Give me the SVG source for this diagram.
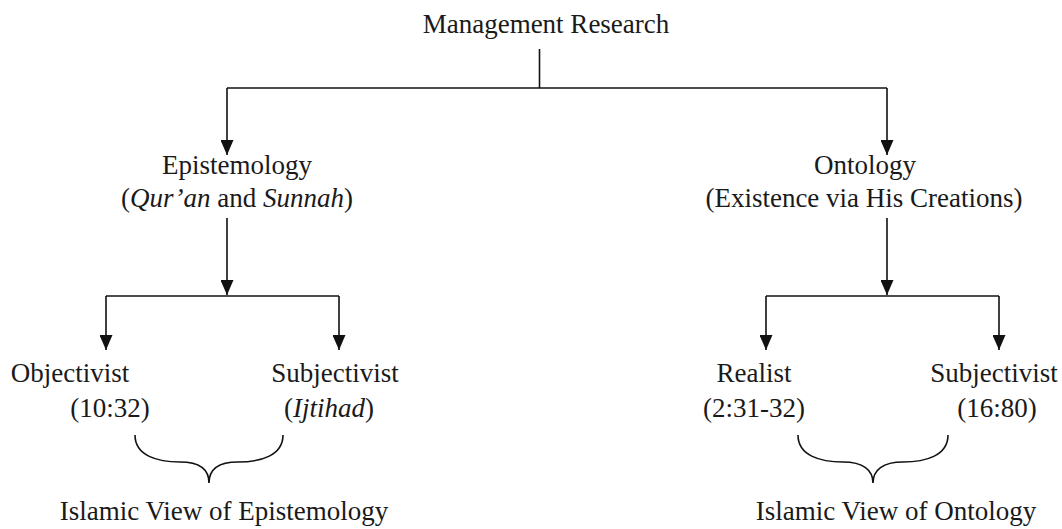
<svg xmlns="http://www.w3.org/2000/svg" width="1062" height="529" viewBox="0 0 1062 529">
<style>
text{font-family:"Liberation Serif","Times New Roman",serif;font-size:27px;fill:#1a1a1a;text-anchor:middle}
.it{font-style:italic}
.ln{stroke:#111;stroke-width:1.6;fill:none}
</style>
<defs>
<marker id="a" markerUnits="userSpaceOnUse" markerWidth="15" markerHeight="13" viewBox="0 0 15 13" refX="15" refY="6.5" orient="auto">
<path d="M0,0 L15,6.5 L0,13 Z" fill="#111"/>
</marker>
</defs>
<g id="connectors">
<path class="ln" d="M539.5,49 V88"/>
<path class="ln" d="M227,88 H887"/>
<path class="ln" d="M227,88 V155" marker-end="url(#a)"/>
<path class="ln" d="M887,88 V155" marker-end="url(#a)"/>
<path class="ln" d="M227,218 V295" marker-end="url(#a)"/>
<path class="ln" d="M887,218 V295" marker-end="url(#a)"/>
<path class="ln" d="M106,296 H339"/>
<path class="ln" d="M106,296 V350" marker-end="url(#a)"/>
<path class="ln" d="M339,296 V350" marker-end="url(#a)"/>
<path class="ln" d="M766,296 H999"/>
<path class="ln" d="M766,296 V350" marker-end="url(#a)"/>
<path class="ln" d="M999,296 V350" marker-end="url(#a)"/>
<path class="ln" d="M135,435 C135,456 158,462 180,462 C200,462 209,470 209,483 C209,470 218,462 238,462 C260,462 283,456 283,435"/>
<path class="ln" d="M798,435 C798,456 821,462 843,462 C863,462 873,470 873,483 C873,470 883,462 903,462 C925,462 948,456 948,435"/>
</g>
<g id="management"><text x="546" y="33">Management Research</text></g>
<g id="epistemology"><text x="237" y="174">Epistemology</text><text x="237" y="207">(<tspan class="it">Qur’an</tspan> and <tspan class="it">Sunnah</tspan>)</text></g>
<g id="ontology"><text x="865" y="174">Ontology</text><text x="864" y="207">(Existence via His Creations)</text></g>
<g id="objectivist"><text x="70" y="382">Objectivist</text><text x="110" y="417">(10:32)</text></g>
<g id="subjectivist-e"><text x="335" y="382">Subjectivist</text><text x="329" y="417">(<tspan class="it">Ijtihad</tspan>)</text></g>
<g id="realist"><text x="754" y="382">Realist</text><text x="754" y="417">(2:31-32)</text></g>
<g id="subjectivist-o"><text x="994" y="382">Subjectivist</text><text x="997" y="417">(16:80)</text></g>
<g id="islamic-epistemology"><text x="224" y="520">Islamic View of Epistemology</text></g>
<g id="islamic-ontology"><text x="896" y="520">Islamic View of Ontology</text></g>
</svg>
